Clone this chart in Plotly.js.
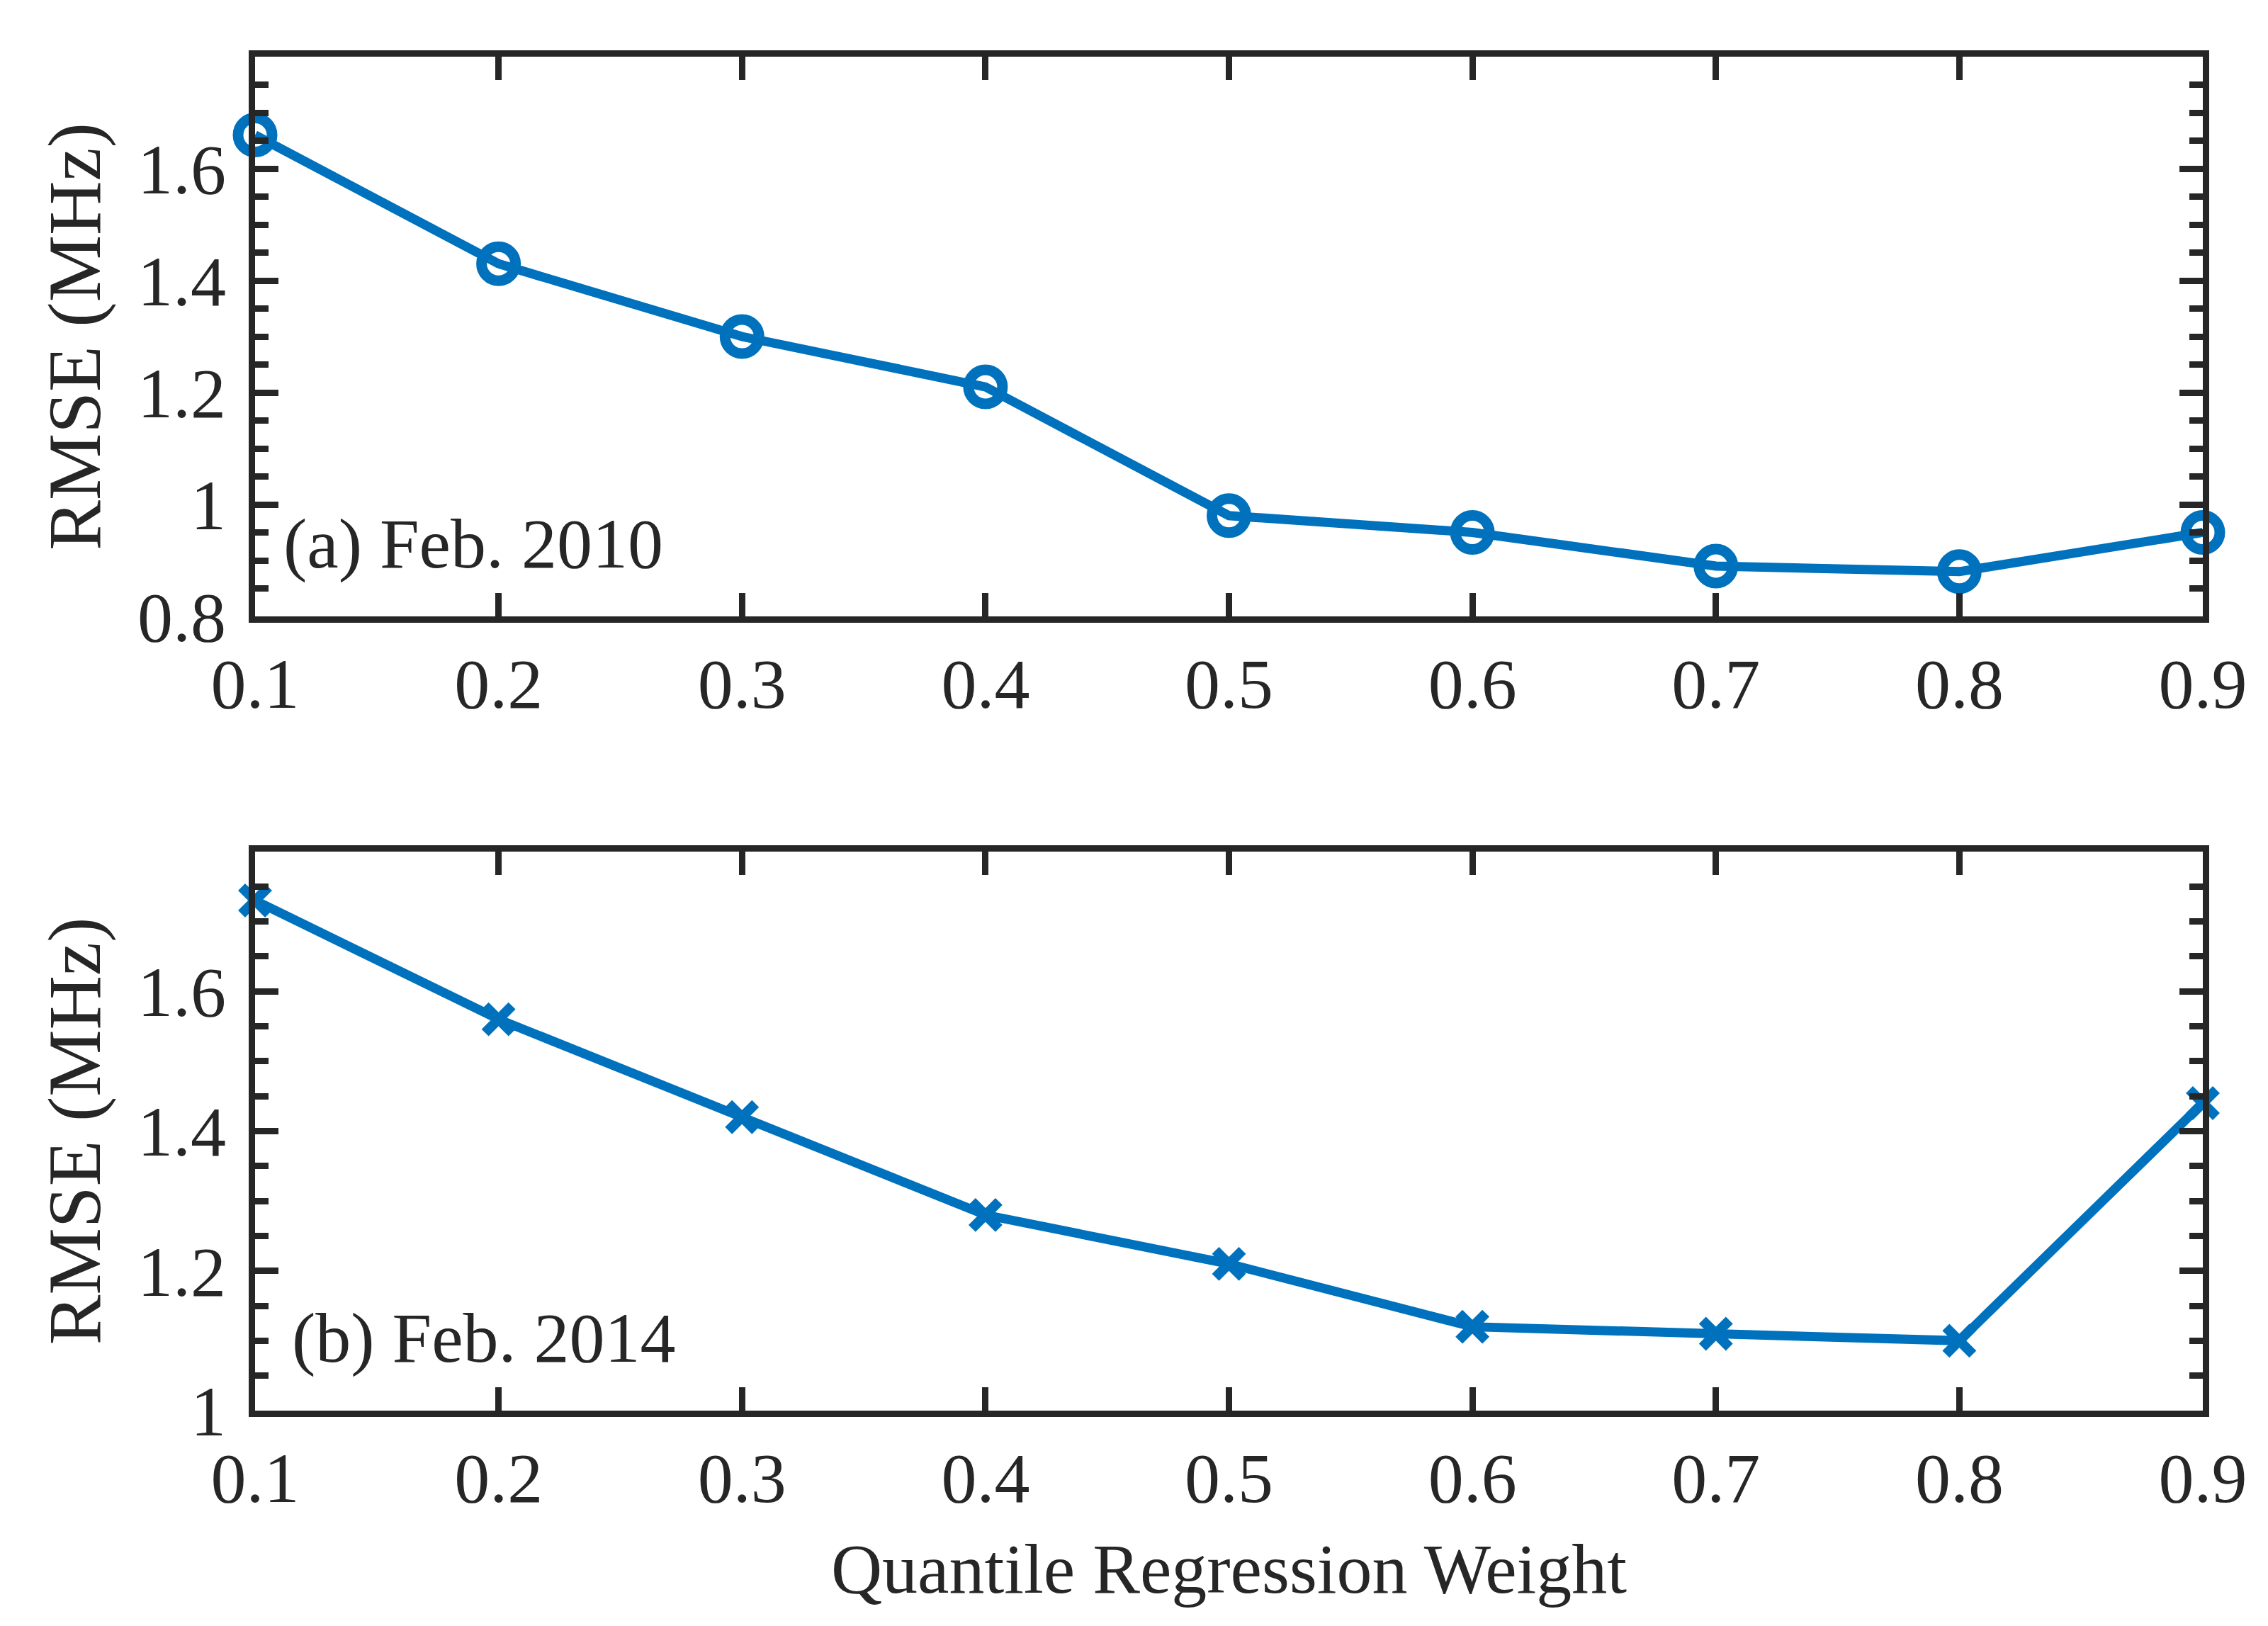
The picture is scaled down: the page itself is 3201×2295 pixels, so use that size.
<!DOCTYPE html>
<html>
<head>
<meta charset="utf-8">
<script src="https://cdn.plot.ly/plotly-3.0.1.min.js"></script>
<style>
  html, body { margin: 0; padding: 0; background: #ffffff; }
  #chart { width: 3201px; height: 2295px; }
</style>
</head>
<body>
<div id="chart"></div>
<script>
// ---- data ----
const weights = [0.1, 0.2, 0.3, 0.4, 0.5, 0.6, 0.7, 0.8, 0.9];
const rmseFeb2010 = [1.66, 1.43, 1.30, 1.21, 0.98, 0.95, 0.89, 0.88, 0.95];
const rmseFeb2014 = [1.73, 1.56, 1.42, 1.28, 1.21, 1.12, 1.11, 1.10, 1.44];

const xTickVals = [0.1, 0.2, 0.3, 0.4, 0.5, 0.6, 0.7, 0.8, 0.9];
const xTickText = ['0.1', '0.2', '0.3', '0.4', '0.5', '0.6', '0.7', '0.8', '0.9'];
const yTopTickVals = [0.8, 1.0, 1.2, 1.4, 1.6];
const yTopTickText = ['0.8', '1', '1.2', '1.4', '1.6'];
const yBotTickVals = [1.0, 1.2, 1.4, 1.6];
const yBotTickText = ['1', '1.2', '1.4', '1.6'];
const yTopRange = [0.8, 1.8];
const yBotRange = [1.0, 1.8];
const xRange = [0.1, 0.9];
const panelLabels = ['(a) Feb. 2010', '(b) Feb. 2014'];
const xTitle = 'Quantile Regression Weight';
const yTitle = 'RMSE (MHz)';

// ---- styling ----
const LINE_COLOR = '#0072BD';
const AX_COLOR = '#262626';
const FONT = '"Liberation Serif", "Times New Roman", serif';

function xAxis(anchor, showTitle) {
  const ax = {
    anchor: anchor,
    range: xRange,
    tickmode: 'array',
    tickvals: xTickVals,
    ticktext: xTickText,
    ticks: 'inside',
    ticklen: 33,
    tickwidth: 9,
    tickcolor: AX_COLOR,
    showline: true,
    linecolor: AX_COLOR,
    linewidth: 9,
    mirror: 'ticks',
    showgrid: false,
    zeroline: false,
    tickfont: { family: FONT, size: 100, color: AX_COLOR },
    ticklabelstandoff: 0
  };
  if (showTitle) {
    ax.title = { text: xTitle, font: { family: FONT, size: 100, color: AX_COLOR }, standoff: 40 };
  }
  return ax;
}

function yAxis(anchor, domain, range, vals, text) {
  return {
    anchor: anchor,
    domain: domain,
    range: range,
    tickmode: 'array',
    tickvals: vals,
    ticktext: text,
    ticks: 'inside',
    ticklen: 33,
    tickwidth: 9,
    tickcolor: AX_COLOR,
    minor: { ticks: 'inside', dtick: 0.05, tick0: 0.8, ticklen: 19, tickwidth: 9, tickcolor: AX_COLOR, showgrid: false },
    showline: true,
    linecolor: AX_COLOR,
    linewidth: 9,
    mirror: 'ticks',
    showgrid: false,
    zeroline: false,
    tickfont: { family: FONT, size: 100, color: AX_COLOR },
    ticklabelstandoff: 12,
    title: { text: yTitle, font: { family: FONT, size: 106, color: AX_COLOR }, standoff: 20 }
  };
}

const traces = [
  {
    x: weights, y: rmseFeb2010, xaxis: 'x', yaxis: 'y',
    type: 'scatter', mode: 'lines+markers', cliponaxis: false,
    line: { color: LINE_COLOR, width: 13 },
    marker: { symbol: 'circle-open', size: 48, color: LINE_COLOR, line: { color: LINE_COLOR, width: 15 } },
    showlegend: false
  },
  {
    x: weights, y: rmseFeb2014, xaxis: 'x2', yaxis: 'y2',
    type: 'scatter', mode: 'lines+markers', cliponaxis: false,
    line: { color: LINE_COLOR, width: 13 },
    marker: { symbol: 'x-thin-open', size: 38, color: LINE_COLOR, line: { color: LINE_COLOR, width: 14 } },
    showlegend: false
  }
];

const layout = {
  width: 3201,
  height: 2295,
  paper_bgcolor: '#ffffff',
  plot_bgcolor: '#ffffff',
  margin: { l: 360, r: 92, t: 80, b: 304, pad: 0 },
  font: { family: FONT, color: AX_COLOR },
  xaxis: xAxis('y', false),
  yaxis: yAxis('x', [0.5866, 1], yTopRange, yTopTickVals, yTopTickText),
  xaxis2: xAxis('y2', true),
  yaxis2: yAxis('x2', [0, 0.4129], yBotRange, yBotTickVals, yBotTickText),
  annotations: [
    {
      text: panelLabels[0], xref: 'x', yref: 'y', x: 0.111, y: 0.93,
      xanchor: 'left', yanchor: 'middle', showarrow: false,
      font: { family: FONT, size: 100, color: AX_COLOR }
    },
    {
      text: panelLabels[1], xref: 'x2', yref: 'y2', x: 0.1145, y: 1.104,
      xanchor: 'left', yanchor: 'middle', showarrow: false,
      font: { family: FONT, size: 100, color: AX_COLOR }
    }
  ]
};

Plotly.newPlot('chart', traces, layout, { staticPlot: true, displayModeBar: false });
</script>
</body>
</html>
